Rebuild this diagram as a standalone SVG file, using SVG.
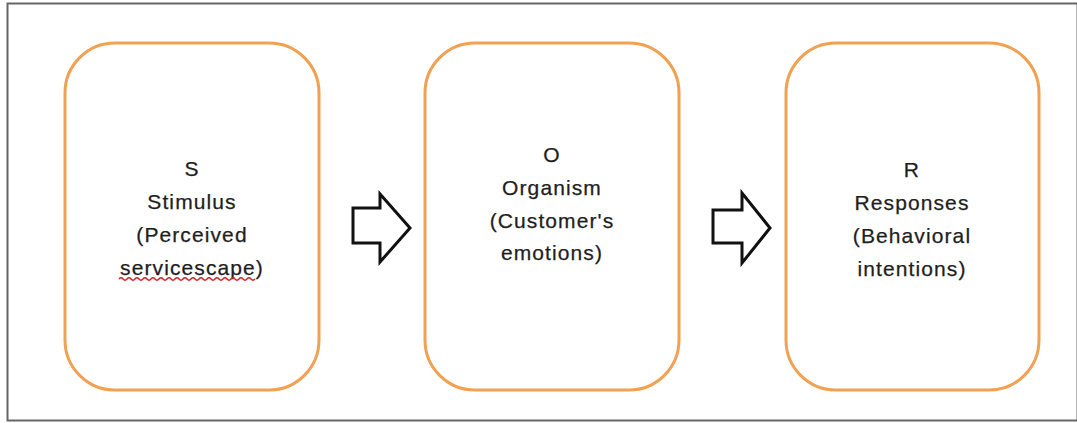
<svg xmlns="http://www.w3.org/2000/svg" width="1077" height="423" viewBox="0 0 1077 423">
  <style>
    .box { fill: #ffffff; stroke: #F0A152; stroke-width: 3; }
    .lbl { font-family: "Liberation Sans", Arial, sans-serif; font-size: 21px; letter-spacing: 1.1px; fill: #1e1e1e; stroke: #1e1e1e; stroke-width: 0.25; text-anchor: middle; }
    .arrow { fill: #ffffff; stroke: #111111; stroke-width: 3; stroke-linejoin: miter; }
  </style>
  <rect x="0" y="0" width="1077" height="423" fill="#ffffff"/>
  <rect x="7.5" y="3.5" width="1070" height="417" fill="none" stroke="#666666" stroke-width="2"/>

  <g id="node-S">
    <rect class="box" x="65" y="43" width="254" height="347" rx="50" ry="50"/>
    <text class="lbl" x="192" y="176">S</text>
    <text class="lbl" x="192" y="209">Stimulus</text>
    <text class="lbl" x="192" y="242">(Perceived</text>
    <text class="lbl" x="192" y="275">servicescape)</text>
    <path d="M119,279 q2,-2.4 4,0 t4,0 t4,0 t4,0 t4,0 t4,0 t4,0 t4,0 t4,0 t4,0 t4,0 t4,0 t4,0 t4,0 t4,0 t4,0 t4,0 t4,0 t4,0 t4,0 t4,0 t4,0 t4,0 t4,0 t4,0 t4,0 t4,0 t4,0 t4,0 t4,0 t4,0 t4,0 t4,0 t4,0" fill="none" stroke="#d42020" stroke-width="1.4"/>
  </g>

  <g id="node-O">
    <rect class="box" x="425" y="43" width="254" height="347" rx="50" ry="50"/>
    <text class="lbl" x="552" y="162">O</text>
    <text class="lbl" x="552" y="195">Organism</text>
    <text class="lbl" x="552" y="228">(Customer's</text>
    <text class="lbl" x="552" y="260">emotions)</text>
  </g>

  <g id="node-R">
    <rect class="box" x="786" y="43" width="253" height="347" rx="50" ry="50"/>
    <text class="lbl" x="912" y="177">R</text>
    <text class="lbl" x="912" y="210">Responses</text>
    <text class="lbl" x="912" y="243">(Behavioral</text>
    <text class="lbl" x="912" y="276">intentions)</text>
  </g>

  <g id="connectors">
    <polygon class="arrow" points="353,208 380,208 380,194 410,228 380,262 380,243 353,243"/>
    <polygon class="arrow" points="713,210 742,210 742,193 770,228 742,263 742,243 713,243"/>
  </g>
</svg>
